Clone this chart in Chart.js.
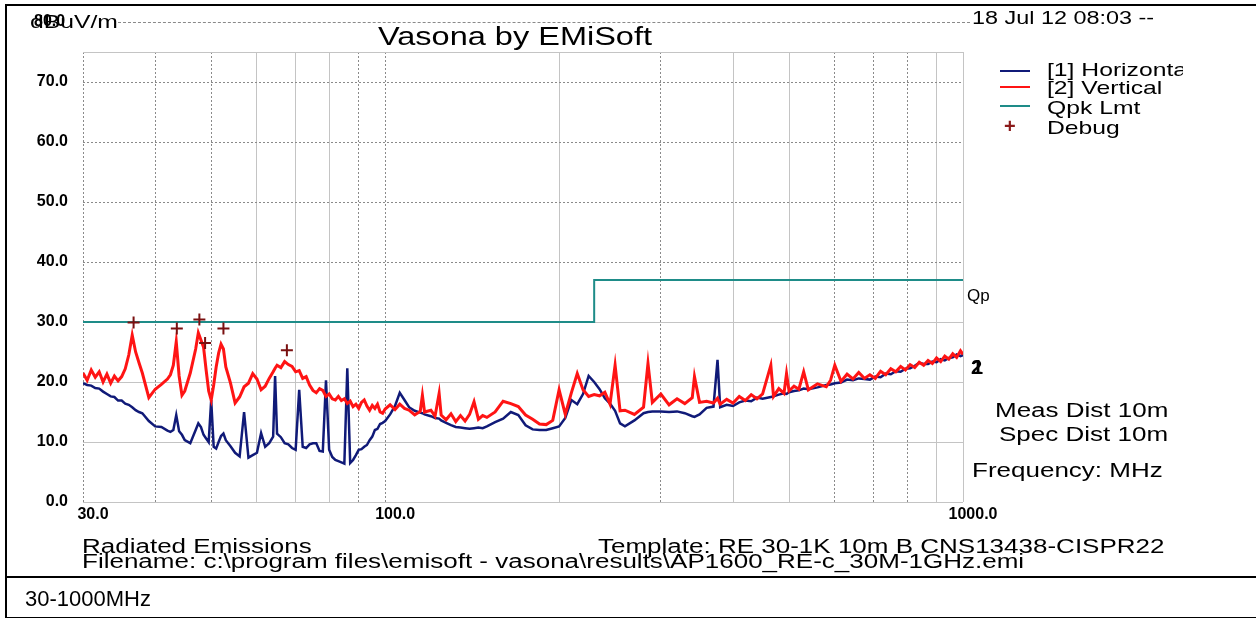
<!DOCTYPE html>
<html>
<head>
<meta charset="utf-8">
<script src="https://cdn.jsdelivr.net/npm/chart.js@4.4.0/dist/chart.umd.min.js"></script>
<style>
  body { margin: 0; background: #fff; }
  #wrap { position: relative; width: 1256px; height: 618px; overflow: hidden; font-family: "Liberation Sans", Arial, sans-serif; }
  #wrap canvas { position: absolute; left: 0; top: 0; }
  .t { position: absolute; white-space: nowrap; color: #000; line-height: 1; }
  .s { transform: scaleX(1.3); transform-origin: 0 0; }
  .ln { position: absolute; height: 0; }
</style>
</head>
<body>
<div id="wrap">
  <canvas id="emiChart" width="1256" height="618"></canvas>

  <!-- frame -->
  <div style="position:absolute;left:5px;top:4px;width:1260px;height:611px;border-top:2px solid #000;border-left:2px solid #000;border-bottom:2px solid #000;"></div>
  <div class="ln" style="left:5px;top:576px;width:1256px;border-top:2px solid #000;"></div>
  <div class="t" style="left:25px;top:588px;font-size:22px;">30-1000MHz</div>

  <!-- header -->
  <div class="ln" style="left:118px;top:22px;width:852px;border-top:1px dashed #8a8a8a;"></div>
  <div class="t s" style="left:378px;top:24px;font-size:25px;">Vasona by EMiSoft</div>
  <div class="t s" style="left:30px;top:12px;font-size:19px;">dBuV/m</div>
  <div class="t" style="left:34px;top:13px;font-size:16px;font-weight:bold;">80.0</div>
  <div class="t s" style="left:972px;top:9px;font-size:18px;background:#fff;">18 Jul 12 08:03 --</div>

  <!-- legend -->
  <div style="position:absolute;left:995px;top:55px;width:188px;height:95px;overflow:hidden;">
    <div class="ln" style="left:5px;top:15px;width:30px;border-top:2px solid #101a78;"></div>
    <div class="ln" style="left:5px;top:31px;width:30px;border-top:2px solid #ff1414;"></div>
    <div class="ln" style="left:5px;top:50px;width:30px;border-top:2px solid #1e8c88;"></div>
    <div class="t" style="left:9px;top:61px;font-size:20px;font-weight:bold;color:#8b1a1a;">+</div>
    <div class="t s" style="left:52px;top:5px;font-size:19px;">[1] Horizontal</div>
    <div class="t s" style="left:52px;top:23px;font-size:19px;">[2] Vertical</div>
    <div class="t s" style="left:52px;top:43px;font-size:19px;">Qpk Lmt</div>
    <div class="t s" style="left:52px;top:63px;font-size:19px;">Debug</div>
  </div>

  <!-- right side notes -->
  <div class="t" style="left:967px;top:287px;font-size:17px;">Qp</div>
  <div class="t" style="left:971px;top:357px;font-size:20px;font-weight:bold;">2</div>
  <div class="t" style="left:972px;top:357px;font-size:20px;font-weight:bold;">1</div>
  <div class="t s" style="left:995px;top:400px;font-size:20px;">Meas Dist 10m</div>
  <div class="t s" style="left:999px;top:424px;font-size:20px;">Spec Dist 10m</div>
  <div class="t s" style="left:972px;top:460px;font-size:20px;">Frequency: MHz</div>

  <!-- footer -->
  <div class="t s" style="left:82px;top:536px;font-size:20px;">Radiated Emissions</div>
  <div class="t s" style="left:598px;top:536px;font-size:20px;">Template: RE 30-1K 10m B CNS13438-CISPR22</div>
  <div class="t s" style="left:82px;top:551px;font-size:20px;">Filename: c:\program files\emisoft - vasona\results\AP1600_RE-c_30M-1GHz.emi</div>
</div>

<script>
// Frequencies in MHz (shared by both traces)
const freqs = [
  30, 30.5, 31, 31.5, 32, 32.5, 33, 33.5, 34, 34.5, 35, 35.5, 36, 36.5, 37, 37.5, 38, 39, 40, 41,
  42, 42.5, 43, 43.5, 44, 44.5, 45, 46, 47, 47.5, 48, 48.5, 49, 49.5, 50, 50.5, 51, 51.5, 52, 52.5,
  53, 54, 55, 56, 57, 58, 59, 60, 61, 62, 63, 64, 64.5, 65, 66, 67, 68, 69, 70, 71,
  72, 73, 74, 75, 76, 77, 78, 79, 80, 81, 82, 83, 84, 85, 86, 87, 88, 89, 90, 91,
  92, 93, 94, 95, 96, 97, 98, 99, 100, 102, 104, 106, 108, 110, 112.5, 115, 116, 117, 120, 122,
  124, 125, 127.5, 130, 132.5, 135, 137.5, 140, 142.5, 145, 147.5, 150, 155, 160, 165, 170, 175, 180, 185, 190,
  195, 200, 205, 210, 215, 220, 225, 230, 235, 240, 245, 250, 255, 260, 270, 280, 285, 290, 300, 310,
  320, 330, 340, 343, 350, 360, 370, 376, 380, 390, 400, 410, 420, 430, 440, 450, 465, 470, 480, 490,
  495, 500, 510, 520, 530, 540, 560, 580, 590, 600, 615, 630, 645, 660, 675, 690, 705, 720, 735, 750,
  765, 780, 795, 810, 825, 840, 855, 870, 885, 900, 915, 930, 945, 960, 975, 990, 1000
];

// [2] Vertical (dBuV/m)
const vertical = [
  21.5, 20.3, 22.0, 20.8, 21.7, 20.0, 21.3, 19.8, 21.0, 20.2, 20.9, 22.2, 24.5, 27.8, 25.0, 23.2, 21.5, 17.4, 18.8, 19.6,
  20.5, 21.2, 22.8, 26.7, 21.0, 17.8, 18.5, 21.5, 25.5, 28.2, 27.0, 25.8, 22.0, 18.5, 17.0, 19.5, 22.5, 24.8, 26.3, 25.5,
  22.5, 19.8, 16.5, 17.5, 19.2, 19.8, 21.4, 20.5, 18.7, 19.3, 20.6, 21.7, 22.3, 22.8, 22.4, 23.4, 22.9, 22.6, 21.7, 21.9,
  20.6, 20.9, 19.5, 18.6, 18.2, 18.9, 18.6, 17.6, 18.0, 17.2, 17.0, 17.6, 16.9, 17.2, 16.4, 16.8, 15.9, 16.3, 15.6, 16.6,
  17.0, 16.0, 15.3, 16.1, 15.6, 16.3, 15.0, 14.8, 15.5, 16.2, 15.4, 16.3, 15.6, 15.3, 14.5, 15.1, 17.8, 15.0, 15.3, 14.3,
  18.1, 14.5, 13.7, 14.7, 13.4, 14.4, 13.5, 14.6, 16.7, 13.8, 14.4, 14.1, 15.0, 16.8, 16.4, 15.9, 14.5, 13.8, 13.0, 12.9,
  13.6, 18.7, 14.6, 18.2, 21.4, 18.7, 17.6, 17.9, 17.7, 18.3, 16.3, 22.8, 15.2, 15.3, 14.6, 15.8, 23.1, 16.6, 18.0, 16.2,
  17.2, 16.4, 17.4, 20.9, 16.6, 16.8, 16.5, 17.3, 16.3, 17.1, 16.5, 17.6, 16.9, 17.9, 17.2, 18.0, 22.8, 17.6, 18.9, 18.1,
  21.4, 18.5, 19.3, 18.8, 21.7, 18.7, 19.7, 19.2, 20.3, 22.8, 20.1, 21.3, 20.5, 21.6, 20.6, 21.2, 20.6, 21.8, 21.2, 22.2,
  21.7, 22.6, 22.0, 22.9, 22.4, 23.3, 22.8, 23.6, 23.1, 24.0, 23.4, 24.3, 23.8, 24.7, 24.1, 25.2, 24.6
];

// [1] Horizontal (dBuV/m)
const horizontal = [
  19.8, 19.5, 19.4, 19.0, 18.9, 18.4, 18.0, 17.6, 17.5, 16.9, 16.9, 16.4, 16.2, 15.8, 15.3, 15.0, 14.8, 13.5, 12.6, 12.5,
  11.9, 11.7, 12.0, 14.5, 11.8, 11.2, 10.3, 9.8, 12.0, 13.1, 12.5, 11.2, 10.6, 10.0, 17.0, 9.2, 8.9, 10.0, 11.0, 11.4,
  10.3, 9.3, 8.2, 7.6, 15.0, 7.4, 7.8, 8.2, 11.5, 9.2, 9.8, 10.9, 21.0, 11.4, 10.8, 9.8, 9.6, 9.0, 8.7, 18.7,
  9.2, 9.0, 9.6, 9.8, 9.8, 8.5, 8.4, 20.3, 8.7, 7.5, 7.0, 6.8, 6.6, 6.4, 22.3, 6.5, 7.0, 7.8, 8.7, 8.8,
  9.2, 9.5, 10.3, 10.9, 12.0, 12.2, 13.0, 13.2, 13.5, 14.6, 16.0, 18.2, 17.0, 15.8, 15.2, 14.9, 14.8, 14.6, 14.3, 14.0,
  13.9, 13.6, 13.2, 12.8, 12.5, 12.4, 12.3, 12.2, 12.3, 12.4, 12.3, 12.6, 13.3, 13.9, 15.0, 14.5, 12.8, 12.1, 12.0, 12.0,
  12.3, 12.6, 14.0, 17.0, 16.3, 18.0, 21.0, 20.0, 18.8, 17.3, 16.4, 15.2, 13.1, 12.6, 13.6, 14.8, 15.0, 15.1, 15.1, 15.0,
  15.1, 14.8, 14.3, 14.2, 14.6, 15.7, 15.9, 23.7, 15.8, 16.2, 16.0, 16.6, 16.9, 16.8, 17.4, 17.2, 17.5, 17.6, 17.9, 18.1,
  18.0, 18.3, 18.5, 18.6, 18.9, 18.8, 19.1, 19.5, 19.6, 19.8, 19.9, 20.4, 20.3, 20.6, 20.5, 20.4, 20.9, 20.8, 21.4, 21.3,
  21.8, 21.7, 22.2, 22.3, 22.7, 23.2, 23.0, 23.0, 23.4, 23.3, 23.8, 23.6, 24.0, 24.1, 24.6, 24.3, 24.5
];

// Qpk limit (step at 230 MHz)
const limitFreqs = [30, 230, 230, 1000];
const limitValues = [30, 30, 37, 37];

// Debug markers
const debugFreqs = [36.7, 43.6, 47.7, 48.8, 52.5, 67.6];
const debugValues = [29.9, 28.9, 30.4, 26.5, 28.9, 25.3];

// Axis ticks
const xGridValues = [30, 40, 50, 60, 70, 80, 90, 100, 200, 300, 400, 500, 600, 700, 800, 900, 1000];
const xLabelValues = [30, 100, 1000];
const xDotted = [30, 40, 50, 90, 100, 300, 600, 700, 800];
const yGridValues = [0, 10, 20, 30, 40, 50, 60, 70, 75];
const yDotted = [40, 50, 60, 70];

const toPoints = (xs, ys) => xs.map((x, i) => ({ x: x, y: ys[i] }));
const tickFont = { family: "'Liberation Sans', Arial, sans-serif", size: 16, weight: 'bold' };

new Chart(document.getElementById("emiChart"), {
  type: "line",
  data: {
    datasets: [
      {
        label: "Debug",
        data: toPoints(debugFreqs, debugValues),
        showLine: false,
        pointStyle: "cross",
        pointRadius: 6,
        borderColor: "#7a1010",
        borderWidth: 2,
        order: 0
      },
      {
        label: "[2] Vertical",
        data: toPoints(freqs, vertical),
        borderColor: "#ff1414",
        borderWidth: 3,
        pointRadius: 0,
        order: 1
      },
      {
        label: "Qpk Lmt",
        data: toPoints(limitFreqs, limitValues),
        borderColor: "#1e8c88",
        borderWidth: 2,
        pointRadius: 0,
        order: 2
      },
      {
        label: "[1] Horizontal",
        data: toPoints(freqs, horizontal),
        borderColor: "#101a78",
        borderWidth: 2.5,
        pointRadius: 0,
        order: 3
      }
    ]
  },
  options: {
    responsive: false,
    animation: false,
    layout: { padding: { left: 23, right: 293, top: 52, bottom: 96 } },
    plugins: { legend: { display: false }, tooltip: { enabled: false } },
    scales: {
      x: {
        type: "logarithmic",
        min: 30,
        max: 1000,
        afterBuildTicks: s => { s.ticks = xGridValues.map(v => ({ value: v })); },
        afterFit: s => { s.height = 20; },
        ticks: {
          autoSkip: false,
          maxRotation: 0,
          padding: 3,
          labelOffset: 10,
          color: "#000",
          font: tickFont,
          callback: v => xLabelValues.includes(v) ? v.toFixed(1) : ""
        },
        grid: {
          drawTicks: false,
          lineWidth: 1,
          color: c => (c.tick && xDotted.includes(c.tick.value)) ? "#8a8a8a" : "#c4c4c4"
        },
        border: {
          display: false,
          dash: c => (c.tick && xDotted.includes(c.tick.value)) ? [2, 2] : []
        }
      },
      y: {
        min: 0,
        max: 75,
        afterBuildTicks: s => { s.ticks = yGridValues.map(v => ({ value: v })); },
        afterFit: s => { s.width = 60; },
        ticks: {
          autoSkip: false,
          padding: 15,
          color: "#000",
          font: tickFont,
          callback: v => v === 75 ? "" : v.toFixed(1)
        },
        grid: {
          drawTicks: false,
          lineWidth: 1,
          color: c => (c.tick && yDotted.includes(c.tick.value)) ? "#8a8a8a" : "#c4c4c4"
        },
        border: {
          display: false,
          dash: c => (c.tick && yDotted.includes(c.tick.value)) ? [2, 2] : []
        }
      }
    }
  }
});
</script>
</body>
</html>
